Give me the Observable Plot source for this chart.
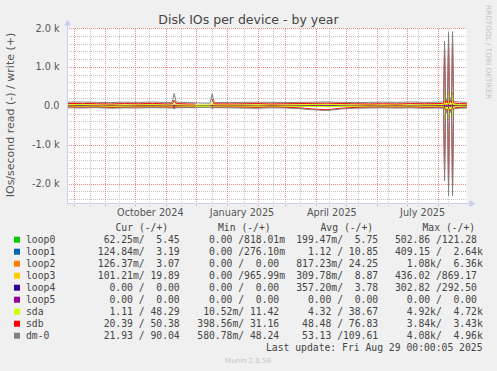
<!DOCTYPE html>
<html><head><meta charset="utf-8">
<script src="https://cdn.jsdelivr.net/npm/d3@7"></script>
<script src="https://cdn.jsdelivr.net/npm/@observablehq/plot@0.6"></script>
<style>
html,body{margin:0;padding:0;background:#f0f0f0;}
#wrap{position:relative;width:497px;height:371px;overflow:hidden;background:#f0f0f0;}
#chart{position:absolute;left:0;top:0;}
#over{position:absolute;left:0;top:0;}
</style></head><body><div id="wrap"><div id="chart"></div><svg id="over" width="497" height="371"></svg></div>
<script>
// ---- data ----
const dates = ["2024-07-26","2024-08-09","2024-08-23","2024-09-06","2024-09-20","2024-10-04","2024-10-18","2024-11-01",
 "2024-11-07","2024-11-09","2024-11-11","2024-11-22","2024-11-30","2024-12-02","2024-12-15","2024-12-17","2024-12-19",
 "2025-01-03","2025-01-17","2025-01-31","2025-02-14","2025-02-28","2025-03-14","2025-03-28","2025-04-11","2025-04-25",
 "2025-05-09","2025-05-23","2025-06-06","2025-06-20","2025-07-04","2025-07-18","2025-08-01","2025-08-05","2025-08-06",
 "2025-08-07","2025-08-08","2025-08-09","2025-08-10","2025-08-11","2025-08-12","2025-08-13","2025-08-14","2025-08-15",
 "2025-08-16","2025-08-17","2025-08-22","2025-08-29"];

const names  = ["loop0","loop1","loop2","loop3","loop4","loop5","sda","sdb","dm-0"];
const colors = ["#00CC00","#0066B3","#FF8000","#FFCC00","#330099","#990099","#CCFF00","#FF0000","#808080"];

// reads are drawn below zero, writes above
const loop0Read  = [0,0,0,0,0,0,0,0,0,1,0,0,0,0,0,0,0,0,0,0,0,0,0,0,0,0,0,0,0,0,0,0,0,0,0,5,0,1,0,6,0,1,0,5,0,0,0,0];
const loop0Write = [6,5,6,5,6,5,6,5,6,8,5,6,5,5,6,7,5,6,5,6,5,6,5,6,5,6,5,6,5,6,5,6,5,6,5,40,6,10,6,50,6,10,6,60,5,6,5,5];
const loop1Read  = [1,1,1,1,1,1,1,1,1,2,1,1,1,1,1,2,1,1,1,1,1,1,1,2,2,1,1,1,1,1,1,1,1,1,1,60,2,5,2,80,2,5,2,70,1,1,1,1];
const loop1Write = [10,11,10,12,11,10,11,10,11,14,10,11,10,10,11,13,10,11,10,11,10,11,10,12,11,10,11,10,11,10,11,10,11,12,12,150,14,30,14,200,14,30,12,180,12,11,10,10];
const loop2Read  = [1,1,1,1,1,1,1,1,1,2,1,1,1,1,1,2,1,1,1,1,1,1,1,1,1,1,1,1,1,1,1,1,1,1,1,90,2,10,2,110,2,10,2,100,1,1,1,1];
const loop2Write = [24,26,22,25,24,23,26,22,24,40,24,23,22,22,23,35,24,23,24,25,23,24,25,26,28,24,23,24,23,24,23,25,24,26,28,300,30,60,30,380,30,60,28,350,26,25,24,24];
const loop3Read  = [0,0,0,0,0,0,0,0,0,1,0,0,0,0,0,1,0,0,0,0,0,0,0,0,0,0,0,0,0,0,0,0,0,0,0,30,1,4,1,40,1,4,1,35,0,0,0,0];
const loop3Write = [9,10,8,9,10,8,9,10,9,15,9,8,9,9,8,14,9,8,9,10,9,8,9,10,11,9,8,9,10,9,8,9,10,11,12,120,14,30,14,150,14,30,12,140,11,10,9,9];
const loop4Read  = [0,0,0,0,0,0,0,0,0,1,0,0,0,0,0,1,0,0,0,0,0,0,0,0,0,0,0,0,0,0,0,0,0,0,0,30,0,3,0,40,0,3,0,35,0,0,0,0];
const loop4Write = [4,4,3,4,4,3,4,4,3,5,4,3,4,4,3,5,4,3,4,4,3,4,4,3,4,4,3,4,4,3,4,4,3,4,4,30,4,6,4,40,4,6,4,35,4,4,3,4];
const loop5Read  = [0,0,0,0,0,0,0,0,0,0,0,0,0,0,0,0,0,0,0,0,0,0,0,0,0,0,0,0,0,0,0,0,0,0,0,0,0,0,0,0,0,0,0,0,0,0,0,0];
const loop5Write = [0,0,0,0,0,0,0,0,0,0,0,0,0,0,0,0,0,0,0,0,0,0,0,0,0,0,0,0,0,0,0,0,0,0,0,0,0,0,0,0,0,0,0,0,0,0,0,0];
const sdaRead    = [4,5,3,4,5,4,3,4,5,30,4,3,4,4,3,20,4,5,4,3,4,5,4,6,8,5,4,3,4,5,4,3,4,5,6,350,10,100,10,300,10,80,8,250,6,5,4,4];
const sdaWrite   = [40,45,35,40,35,40,45,35,40,160,40,35,30,35,35,100,40,35,40,35,40,35,40,45,50,40,35,40,35,40,35,40,45,50,60,420,70,150,70,380,80,120,70,300,60,50,40,45];
const sdbRead    = [20,25,20,30,25,20,25,20,25,40,20,25,20,null,null,40,25,20,25,30,20,25,40,70,90,50,30,25,20,25,20,30,25,30,40,1700,60,150,70,2100,70,130,60,2100,70,40,30,25];
const sdbWrite   = [70,75,65,60,70,65,75,60,65,150,70,60,60,null,null,180,65,60,65,70,60,65,70,75,80,70,65,60,65,60,70,65,70,75,80,1500,90,150,90,1750,100,150,90,1750,100,80,70,65];
const dm0Read    = [40,45,35,50,40,45,35,40,45,60,40,35,40,30,30,50,35,40,45,50,40,45,60,90,110,70,50,45,40,45,40,50,45,50,60,1920,80,180,90,2300,90,160,80,2300,90,60,50,45];
const dm0Write   = [105,110,100,95,105,100,110,95,100,330,105,95,90,85,80,320,100,95,100,105,100,95,100,105,110,100,95,100,105,100,110,100,105,110,120,1670,130,200,130,1900,140,220,130,1920,140,120,110,100];

const reads  = [loop0Read,loop1Read,loop2Read,loop3Read,loop4Read,loop5Read,sdaRead,sdbRead,dm0Read];
const writes = [loop0Write,loop1Write,loop2Write,loop3Write,loop4Write,loop5Write,sdaWrite,sdbWrite,dm0Write];

// legend table values
const curVals = [" 62.25m/  5.45 ","124.84m/  3.19 ","126.37m/  3.07 ","101.21m/ 19.89 ","  0.00 /  0.00 ","  0.00 /  0.00 ","  1.11 / 48.29 "," 20.39 / 50.38 "," 21.93 / 90.04 "];
const minVals = ["  0.00 /818.01m","  0.00 /276.10m","  0.00 /  0.00 ","  0.00 /965.99m","  0.00 /  0.00 ","  0.00 /  0.00 "," 10.52m/ 11.42 ","398.56m/ 31.16 ","580.78m/ 48.24 "];
const avgVals = ["199.47m/  5.75 ","  1.12 / 10.85 ","817.23m/ 24.25 ","309.78m/  8.87 ","357.20m/  3.78 ","  0.00 /  0.00 ","  4.32 / 38.67 "," 48.48 / 76.83 "," 53.13 /109.61 "];
const maxVals = ["502.86 /121.28 ","409.15 /  2.64k","  1.08k/  6.36k","436.02 /869.17 ","302.82 /292.50 ","  0.00 /  0.00 ","  4.92k/  4.72k","  3.84k/  3.43k","  4.08k/  4.96k"];
const headers = ["Cur (-/+)","Min (-/+)","Avg (-/+)","Max (-/+)"];

// axes / grid
const yTicks = [-2000,-1000,0,1000,2000];
const yMinor = d3.range(-2400, 2001, 200);
const monthStarts = ["2024-08-01","2024-09-01","2024-10-01","2024-11-01","2024-12-01","2025-01-01","2025-02-01","2025-03-01","2025-04-01","2025-05-01","2025-06-01","2025-07-01","2025-08-01"];
const minorXDates = ["2024-08-17","2024-09-15","2024-10-15","2024-11-16","2024-12-17","2025-01-18","2025-02-17","2025-03-16","2025-04-14","2025-05-13","2025-06-12","2025-07-12","2025-08-11"];
const labelDates = ["2024-10-16","2025-01-16","2025-04-16","2025-07-16"];
const xStartStr = "2024-07-25", xEndStr = "2025-08-29";
const yLo = -2500, yHi = 2000;

// ---- build ----
const parse = d3.utcParse("%Y-%m-%d");
const T = dates.map(parse);
const xStart = parse(xStartStr), xEnd = parse(xEndStr);
const axisColor = "#c9cdee";
const minorColor = "#c4c4c4", majorColor = "#e88a8a";
const grid = {strokeDasharray: "1,1", shapeRendering: "crispEdges"};
const marks = [
  Plot.frame({fill: "white", stroke: "none"}),
  Plot.ruleY(yMinor.filter(v => v % 1000 !== 0), {...grid, stroke: minorColor}),
  Plot.ruleX(minorXDates.map(parse), {...grid, y1: yLo - 80, y2: yHi, stroke: minorColor}),
  Plot.ruleY(yTicks, {...grid, stroke: majorColor}),
  Plot.ruleX(monthStarts.map(parse), {...grid, y1: yLo - 80, y2: yHi, stroke: majorColor}),
];
names.forEach((n, k) => {
  const r = T.map((t, i) => ({t, v: reads[k][i] == null ? NaN : -reads[k][i]}));
  const w = T.map((t, i) => ({t, v: writes[k][i] == null ? NaN : writes[k][i]}));
  marks.push(Plot.line(r, {x: "t", y: "v", stroke: colors[k], strokeWidth: 1}));
  marks.push(Plot.line(w, {x: "t", y: "v", stroke: colors[k], strokeWidth: 1}));
});
marks.push(
  Plot.ruleX([xStart], {y1: yLo, y2: yHi + 130, stroke: axisColor, shapeRendering: "crispEdges"}),
  Plot.ruleY([yLo], {x1: xStart, x2: d3.utcDay.offset(xEnd, 4), stroke: axisColor, shapeRendering: "crispEdges"}),
  Plot.dot([0], {x: () => xStart, y: () => yHi + 130, symbol: "triangle", r: 2.6, fill: axisColor, stroke: "none"}),
  Plot.dot([0], {x: () => d3.utcDay.offset(xEnd, 5), y: () => yLo, symbol: "triangle", rotate: 90, r: 2.6, fill: axisColor, stroke: "none"}),
  Plot.axisY(yTicks, {tickSize: 0, tickPadding: 8, fill: "#555", label: null,
    tickFormat: d => d === 0 ? "0.0" : (d / 1000).toFixed(1) + " k"}),
  Plot.axisX(labelDates.map(parse), {tickSize: 0, tickPadding: 6, fill: "#555", label: null, tickFormat: d3.utcFormat("%B %Y")})
);

const chart = Plot.plot({
  width: 497, height: 220,
  marginLeft: 67, marginRight: 31, marginTop: 28, marginBottom: 17,
  x: {type: "utc", domain: [xStart, xEnd], label: null},
  y: {domain: [yLo, yHi], label: null},
  style: {background: "transparent", fontFamily: "DejaVu Sans", fontSize: "9.7px", overflow: "visible"},
  marks
});
document.getElementById("chart").appendChild(chart);

// ---- text around the chart ----
const svg = d3.select("#over");
svg.append("text").attr("x", 248.5).attr("y", 24).attr("text-anchor", "middle")
  .style("font-family", "DejaVu Sans").style("font-size", "12.5px").attr("fill", "#444")
  .text("Disk IOs per device - by year");
svg.append("text").attr("transform", "translate(13.5,115) rotate(-90)").attr("text-anchor", "middle")
  .style("font-family", "DejaVu Sans").style("font-size", "11px").attr("fill", "#555")
  .text("IOs/second read (-) / write (+)");
svg.append("text").attr("transform", "translate(485.5,5) rotate(90)").attr("text-anchor", "start")
  .style("font-family", "DejaVu Sans").style("font-size", "7.3px").attr("fill", "#c4c4c4")
  .text("RRDTOOL / TOBI OETIKER");

const mono = s => s.style("font-family", "DejaVu Sans Mono").style("font-size", "9.72px").style("white-space", "pre").attr("fill", "#444");
const headerX = [115.5, 218, 320.5, 422.5];
headers.forEach((h, i) => mono(svg.append("text").attr("x", headerX[i]).attr("y", 231).text(h)));
const colX = [97.8, 197.3, 296.2, 395];
const cols = [curVals, minVals, avgVals, maxVals];
names.forEach((n, k) => {
  const yb = 243 + 12 * k;
  svg.append("rect").attr("x", 14).attr("y", yb - 6.3).attr("width", 6).attr("height", 6).attr("fill", colors[k]);
  mono(svg.append("text").attr("x", 26).attr("y", yb).text(n));
  cols.forEach((c, j) => mono(svg.append("text").attr("x", colX[j]).attr("y", yb).text(c[k])));
});
mono(svg.append("text").attr("x", 482.5).attr("y", 351).attr("text-anchor", "end").text("Last update: Fri Aug 29 00:00:05 2025"));
svg.append("text").attr("x", 248).attr("y", 362.5).attr("text-anchor", "middle")
  .style("font-family", "DejaVu Sans").style("font-size", "7px").attr("fill", "#c4c4c4")
  .text("Munin 2.0.56");
</script></body></html>
